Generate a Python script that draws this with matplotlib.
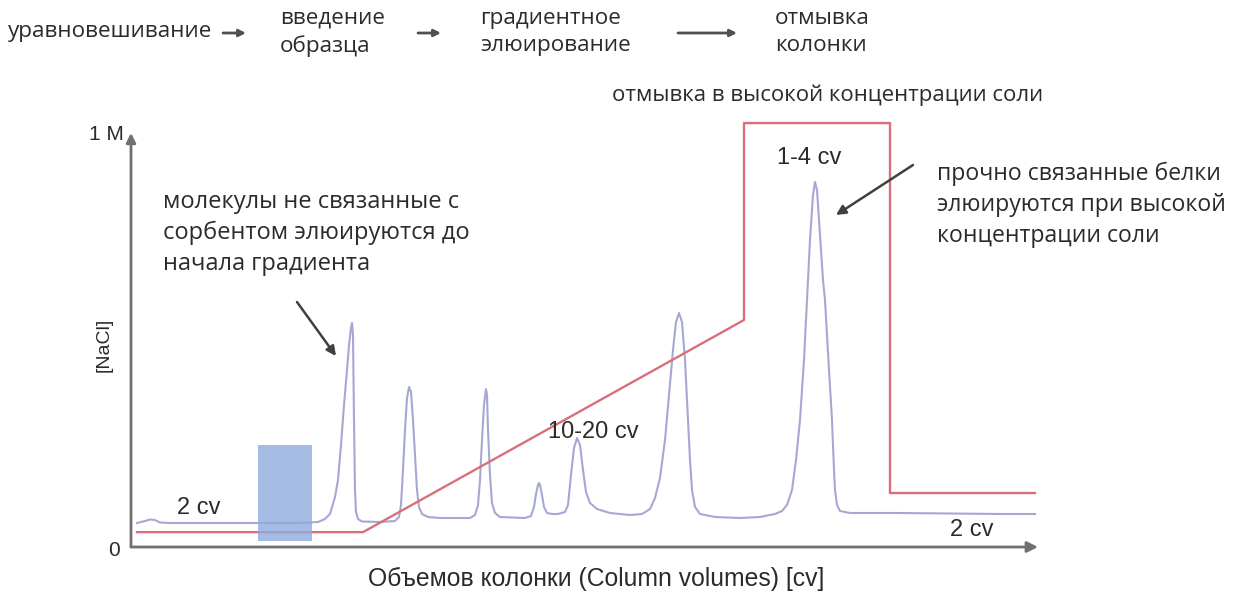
import numpy as np
import matplotlib
matplotlib.use('Agg')
import matplotlib.pyplot as plt

# --- Data ---
# NaCl program: equilibration, linear gradient, high-salt wash, re-equilibration
salt_cv = [0.24, 9.28, 24.52, 24.52, 30.36, 30.36, 36.16]
salt_M  = [0.036, 0.036, 0.551, 1.029, 1.029, 0.131, 0.131]

# sample injection block
sample_cv = (5.08, 7.24)
sample_M  = (0.015, 0.248)

# UV trace (mAU) against column volumes
uv_cv = [0.24, 0.56, 0.76, 0.96, 1.16, 1.56, 4.76, 6.76, 7.48, 7.76, 7.96, 8.16, 8.28, 8.40,
         8.52, 8.64, 8.72, 8.80, 8.84, 8.88, 8.92, 8.96, 9.00, 9.08, 9.24, 9.96, 10.56, 10.72,
         10.80, 10.88, 10.96, 11.04, 11.12, 11.20, 11.28, 11.36, 11.44, 11.52, 11.64, 11.88,
         12.36, 13.56, 13.76, 13.88, 13.96, 14.04, 14.12, 14.20, 14.24, 14.28, 14.36, 14.44,
         14.56, 14.76, 15.76, 16.00, 16.12, 16.20, 16.28, 16.32, 16.36, 16.44, 16.52, 16.64,
         16.84, 17.08, 17.36, 17.48, 17.60, 17.72, 17.84, 17.96, 18.08, 18.20, 18.36, 18.64,
         19.16, 19.96, 20.44, 20.76, 20.96, 21.16, 21.36, 21.52, 21.68, 21.80, 21.92, 22.04,
         22.16, 22.28, 22.36, 22.44, 22.56, 22.76, 23.36, 24.36, 25.16, 25.76, 26.04, 26.24,
         26.44, 26.60, 26.76, 26.92, 27.04, 27.16, 27.28, 27.36, 27.44, 27.56, 27.68, 27.76,
         27.92, 28.04, 28.12, 28.16, 28.24, 28.36, 28.76, 30.76, 34.76, 36.16]
uv_mau = [48, 52, 55, 54, 49, 48, 48, 48, 50, 56, 66, 100, 134, 204,
          284, 354, 404, 438, 448, 424, 254, 114, 70, 56, 51, 50, 52, 60,
          84, 154, 234, 298, 320, 310, 254, 184, 114, 80, 66, 60,
          58, 58, 64, 84, 134, 214, 284, 316, 304, 234, 144, 88,
          68, 60, 58, 62, 80, 106, 124, 128, 124, 104, 80, 68,
          66, 66, 70, 84, 144, 198, 218, 204, 154, 110, 88, 76,
          68, 64, 66, 76, 98, 138, 214, 304, 394, 450, 468, 450,
          374, 254, 174, 114, 80, 66, 60, 58, 60, 66, 72, 84,
          114, 174, 254, 374, 494, 614, 704, 730, 714, 624, 534, 494,
          354, 254, 154, 114, 84, 72, 68, 68, 66, 66]

steps = ['уравновешивание', 'введение\nобразца', 'градиентное\nэлюирование', 'отмывка\nколонки']

# --- Style ---
plt.rcParams['font.family'] = ['Open Sans', 'DejaVu Sans']
txt_c  = '#2b2b2b'
axis_c = '#707070'
red_c  = '#d8707b'
uv_c   = '#a6a8d4'
arial  = ['Liberation Sans', 'DejaVu Sans']

W, H = 1234, 594
fig = plt.figure(figsize=(W / 100, H / 100), dpi=100)

def px(x, y):
    return x / W, 1 - y / H

y_top = 1.06
ax = fig.add_axes([131 / W, 47 / H, 922.5 / W, y_top * 412 / H])
ax.set_xlim(0, 36.9)
ax.set_ylim(0, y_top)
ax.axis('off')

# UV trace on its own scale (1 M of salt ~ 824 mAU on screen)
ax2 = ax.twinx()
ax2.set_ylim(0, y_top * 824)
ax2.axis('off')
ax2.plot(uv_cv, uv_mau, color=uv_c, lw=1.5, solid_joinstyle='round')
ax.set_zorder(ax2.get_zorder() + 1)
ax.patch.set_visible(False)

# salt gradient and sample block
ax.plot(salt_cv, salt_M, color=red_c, lw=1.7)
ax.fill_between(sample_cv, sample_M[0], sample_M[1], color='#8eabdd', alpha=0.8, lw=0, zorder=3)

# axes with arrowheads
ax.annotate('', xy=(36.28, 0), xytext=(0, 0),
            arrowprops=dict(arrowstyle='-|>', color=axis_c, lw=2, mutation_scale=16, shrinkA=0, shrinkB=0))
ax.annotate('', xy=(0, 1.005), xytext=(0, 0),
            arrowprops=dict(arrowstyle='-|>', color=axis_c, lw=2, mutation_scale=14, shrinkA=0, shrinkB=0))

# axis labels
fig.text(*px(124, 135), '1 M', family=arial, fontsize=15, color=txt_c, ha='right', va='center')
fig.text(*px(114, 550), '0', family=arial, fontsize=15, color=txt_c, ha='center', va='center')
fig.text(*px(104, 345), '[NaCl]', family=arial, fontsize=14, color=txt_c, ha='center', va='center', rotation=90)
fig.text(*px(596, 579), 'Объемов колонки (Column volumes) [cv]', family=arial, fontsize=17.8,
         color=txt_c, ha='center', va='center')

# cv labels
fig.text(*px(177, 508), '2 cv', family=arial, fontsize=17, color=txt_c, ha='left', va='center')
fig.text(*px(972, 530), '2 cv', family=arial, fontsize=17, color=txt_c, ha='center', va='center')
fig.text(*px(548, 432), '10-20 cv', family=arial, fontsize=17, color=txt_c, ha='left', va='center')
fig.text(*px(777, 158), '1-4 cv', family=arial, fontsize=17, color=txt_c, ha='left', va='center')

# workflow steps across the top
step_x = [8, 280, 480, 775]
for sx, s in zip(step_x, steps):
    fig.text(*px(sx, 32), s, fontsize=16.2, color=txt_c, ha='left', va='center', linespacing=1.4)

for x0, x1 in [(223, 246), (418, 441), (678, 737)]:
    ax.annotate('', xy=px(x1, 33), xytext=px(x0, 33), xycoords='figure fraction', textcoords='figure fraction',
                arrowprops=dict(arrowstyle='-|>', color='#505050', lw=2, mutation_scale=10, shrinkA=0, shrinkB=0))

# annotations
fig.text(*px(612, 95), 'отмывка в высокой концентрации соли', fontsize=16, color=txt_c, ha='left', va='center')
fig.text(*px(163, 233), 'молекулы не связанные с\nсорбентом элюируются до\nначала градиента',
         fontsize=17, color=txt_c, ha='left', va='center', linespacing=1.4)
fig.text(*px(937, 205), 'прочно связанные белки\nэлюируются при высокой\nконцентрации соли',
         fontsize=16.6, color=txt_c, ha='left', va='center', linespacing=1.38)

for (x0, y0), (x1, y1) in [((297, 302), (336, 356)), ((913, 165), (836, 215))]:
    ax.annotate('', xy=px(x1, y1), xytext=px(x0, y0), xycoords='figure fraction', textcoords='figure fraction',
                arrowprops=dict(arrowstyle='-|>', color='#404040', lw=1.8, mutation_scale=14, shrinkA=0, shrinkB=0))

fig.savefig('out.png', dpi=100)
